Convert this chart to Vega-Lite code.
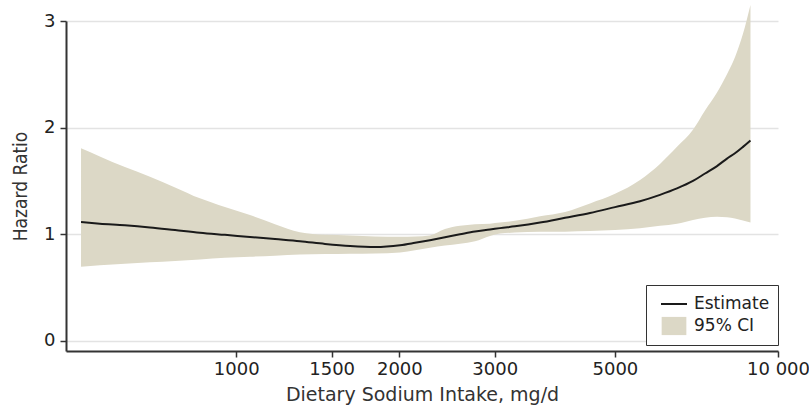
{
  "$schema": "https://vega.github.io/schema/vega-lite/v6.json",
  "width": 712,
  "height": 330,
  "autosize": {"type": "none"},
  "padding": {"left": 66, "top": 21, "right": 31, "bottom": 54},
  "background": "white",
  "config": {"view": {"stroke": null}, "font": "DejaVu Sans"},
  "data": {
    "values": [
      {"x": 517, "est": 1.115, "lo": 0.697, "hi": 1.806},
      {"x": 560, "est": 1.10, "lo": 0.71, "hi": 1.73},
      {"x": 623, "est": 1.085, "lo": 0.725, "hi": 1.63},
      {"x": 693, "est": 1.065, "lo": 0.738, "hi": 1.54},
      {"x": 771, "est": 1.04, "lo": 0.75, "hi": 1.44},
      {"x": 857, "est": 1.015, "lo": 0.765, "hi": 1.337},
      {"x": 953, "est": 0.995, "lo": 0.78, "hi": 1.255},
      {"x": 1060, "est": 0.975, "lo": 0.79, "hi": 1.18},
      {"x": 1179, "est": 0.955, "lo": 0.80, "hi": 1.095},
      {"x": 1311, "est": 0.935, "lo": 0.81, "hi": 1.02},
      {"x": 1458, "est": 0.91, "lo": 0.815, "hi": 0.995},
      {"x": 1622, "est": 0.89, "lo": 0.818, "hi": 0.99},
      {"x": 1804, "est": 0.88, "lo": 0.82, "hi": 0.98},
      {"x": 2006, "est": 0.897, "lo": 0.83, "hi": 0.978},
      {"x": 2138, "est": 0.92, "lo": 0.85, "hi": 0.98},
      {"x": 2278, "est": 0.945, "lo": 0.875, "hi": 0.99},
      {"x": 2428, "est": 0.972, "lo": 0.895, "hi": 1.05},
      {"x": 2588, "est": 1.0, "lo": 0.912, "hi": 1.08},
      {"x": 2759, "est": 1.027, "lo": 0.935, "hi": 1.095},
      {"x": 2940, "est": 1.045, "lo": 0.985, "hi": 1.10},
      {"x": 3068, "est": 1.058, "lo": 1.008, "hi": 1.11},
      {"x": 3269, "est": 1.075, "lo": 1.016, "hi": 1.127},
      {"x": 3637, "est": 1.11, "lo": 1.025, "hi": 1.17},
      {"x": 4045, "est": 1.155, "lo": 1.025, "hi": 1.21},
      {"x": 4498, "est": 1.20, "lo": 1.03, "hi": 1.29},
      {"x": 5002, "est": 1.255, "lo": 1.04, "hi": 1.38},
      {"x": 5563, "est": 1.31, "lo": 1.056, "hi": 1.51},
      {"x": 6056, "est": 1.37, "lo": 1.08, "hi": 1.66},
      {"x": 6510, "est": 1.43, "lo": 1.10, "hi": 1.82},
      {"x": 6967, "est": 1.50, "lo": 1.135, "hi": 1.98},
      {"x": 7333, "est": 1.57, "lo": 1.155, "hi": 2.16},
      {"x": 7717, "est": 1.64, "lo": 1.165, "hi": 2.33},
      {"x": 8051, "est": 1.71, "lo": 1.16, "hi": 2.50},
      {"x": 8328, "est": 1.76, "lo": 1.148, "hi": 2.66},
      {"x": 8617, "est": 1.82, "lo": 1.13, "hi": 2.88},
      {"x": 8896, "est": 1.88, "lo": 1.11, "hi": 3.15}
    ]
  },
  "encoding": {
    "x": {
      "field": "x",
      "type": "quantitative",
      "scale": {"type": "log", "domain": [485, 10000], "nice": false},
      "axis": {
        "values": [1000, 1500, 2000, 3000, 5000, 10000],
        "labelExpr": "datum.value === 10000 ? '10 000' : format(datum.value, 'd')",
        "title": "Dietary Sodium Intake, mg/d",
        "grid": false,
        "domainColor": "#333333",
        "domainWidth": 2,
        "tickColor": "#333333",
        "tickWidth": 1.5,
        "tickSize": 6,
        "labelFontSize": 18,
        "labelColor": "#222222",
        "labelPadding": 3,
        "labelFlush": false,
        "labelOverlap": false,
        "titleFontSize": 19,
        "titleFontWeight": "normal",
        "titleColor": "#333333",
        "titlePadding": 7
      }
    }
  },
  "layer": [
    {
      "mark": {"type": "area", "interpolate": "monotone", "opacity": 1},
      "encoding": {
        "y": {
          "field": "lo",
          "type": "quantitative",
          "scale": {"domain": [-0.094, 3], "nice": false, "zero": false},
          "axis": {
            "values": [0, 1, 2, 3],
            "format": "d",
            "title": "Hazard Ratio",
            "grid": true,
            "gridColor": "#e3e3e3",
            "gridWidth": 1.5,
            "domainColor": "#333333",
            "domainWidth": 2,
            "tickColor": "#333333",
            "tickWidth": 1.5,
            "tickSize": 6,
            "labelFontSize": 18,
            "labelColor": "#222222",
            "labelPadding": 5,
            "titleFont": "Liberation Sans Narrow, DejaVu Sans Condensed, sans-serif",
            "titleFontSize": 19,
            "titleFontWeight": "normal",
            "titleColor": "#333333",
            "titlePadding": 13
          }
        },
        "y2": {"field": "hi"},
        "fill": {
          "datum": "95% CI",
          "type": "nominal",
          "scale": {"domain": ["Estimate", "95% CI"], "range": ["transparent", "#dcd8c6"]},
          "legend": {
            "title": null,
            "orient": "none",
            "legendX": 580,
            "legendY": 264,
            "strokeColor": "#333333",
            "fillColor": "white",
            "padding": 8,
            "symbolOffset": 6,
            "symbolSize": 676,
            "symbolType": "M-0.95,-0.7H0.95V0.7H-0.95Z",
            "symbolStrokeColor": "transparent",
            "symbolOpacity": 1,
            "clipHeight": 22,
            "rowPadding": 0,
            "labelFontSize": 17,
            "labelColor": "#222222",
            "labelOffset": 6
          }
        }
      }
    },
    {
      "mark": {"type": "line", "interpolate": "monotone", "strokeWidth": 2},
      "encoding": {
        "y": {"field": "est", "type": "quantitative"},
        "stroke": {
          "datum": "Estimate",
          "type": "nominal",
          "scale": {"domain": ["Estimate"], "range": ["#1a1a1a"]},
          "legend": {
            "title": null,
            "orient": "none",
            "legendX": 580,
            "legendY": 264,
            "padding": 8,
            "symbolOffset": 6,
            "symbolSize": 676,
            "symbolType": "stroke",
            "symbolStrokeWidth": 2,
            "symbolOpacity": 1,
            "clipHeight": 22,
            "rowPadding": 0,
            "labelFontSize": 17,
            "labelOffset": 6,
            "labelExpr": "''"
          }
        }
      }
    }
  ]
}
